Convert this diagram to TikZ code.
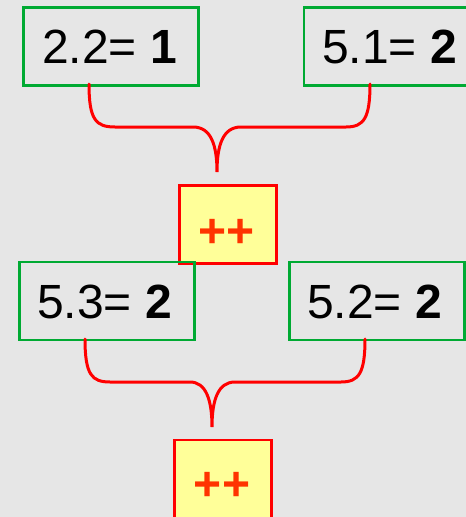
\documentclass[tikz,border=0pt]{standalone}
\usepackage{fontspec}
\setmainfont{Liberation Sans}
\definecolor{bg}{RGB}{230,230,230}
\definecolor{boxgreen}{RGB}{0,170,51}
\definecolor{yfill}{RGB}{255,255,153}
\definecolor{plusred}{RGB}{255,51,0}
\begin{document}
\begin{tikzpicture}[x=1pt,y=-1pt,
  gbox/.style={draw=boxgreen, line width=2.7pt, minimum width=175pt, minimum height=78pt, inner sep=0pt},
  ybox/.style={draw=red, fill=yfill, line width=2.7pt, minimum width=97pt, minimum height=78pt, inner sep=0pt},
  val/.style={anchor=base west, inner sep=0pt, font=\fontsize{48}{58}\selectfont},
  plustext/.style={anchor=base, inner sep=0pt, text=plusred, font=\fontsize{48}{58}\selectfont\bfseries},
  brace/.style={draw=red, line width=3pt, line cap=round}]
\fill[bg] (0,0) rectangle (466,517);
\useasboundingbox (0,0) rectangle (466,517);
\clip (0,0) rectangle (466,517);
% yellow operator boxes
\node[ybox] (op1) at (227.7,224.6) {};
\node[plustext] (op1t) at (226.5,247) {++};
\node[ybox] (op2) at (223.3,479) {};
\node[plustext] (op2t) at (222,500) {++};
% green value boxes
\node[gbox] (b1) at (111.3,46.5) {};
\node[val] (b1t) at (42,63) {2.2= \textbf{1}};
\node[gbox] (b2) at (391.5,46.5) {};
\node[val] (b2t) at (322,63) {5.1= \textbf{2}};
\node[gbox] (b3) at (107,301) {};
\node[val] (b3t) at (37,318) {5.3= \textbf{2}};
\node[gbox] (b4) at (376.7,301) {};
\node[val] (b4t) at (307,318) {5.2= \textbf{2}};
% brace 1
\coordinate (l1) at (89,84);
\coordinate (r1) at (370,84);
\coordinate (t1) at (217,172);
\draw[brace] (l1) .. controls (89,120) and (96,127) .. (115,127) -- (193,127)
  .. controls (211,127) and (217,145) .. (t1)
  .. controls (217,145) and (223,127) .. (241,127) -- (346,127)
  .. controls (364,127) and (370,118) .. (r1);
% brace 2
\coordinate (l2) at (85,339);
\coordinate (r2) at (365,339);
\coordinate (t2) at (212,427);
\draw[brace] (l2) .. controls (85,375) and (92,382) .. (110,382) -- (190,382)
  .. controls (206,382) and (212,400) .. (t2)
  .. controls (212,400) and (218,382) .. (235,382) -- (341,382)
  .. controls (359,382) and (365,373) .. (r2);
\end{tikzpicture}
\end{document}
